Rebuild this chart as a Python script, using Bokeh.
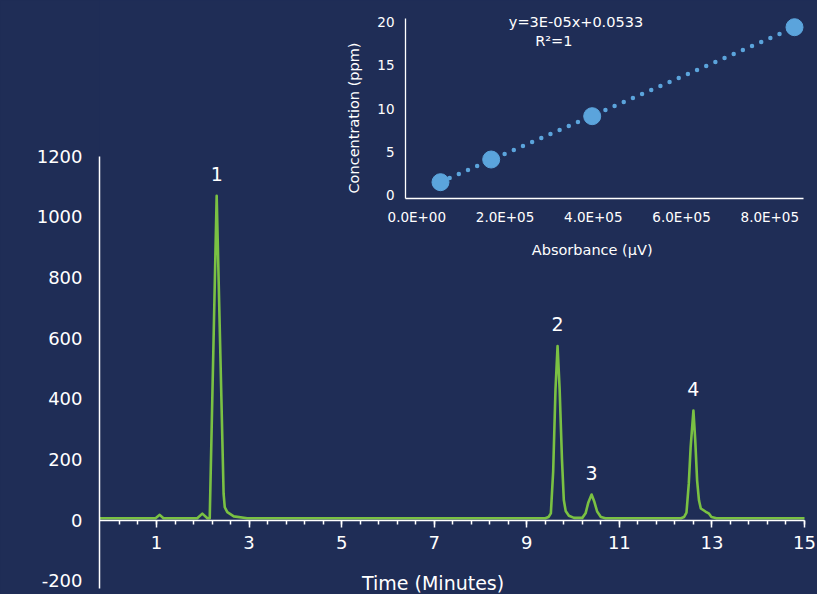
import math
import numpy as np
from bokeh.plotting import figure
from bokeh.models import Range1d, LinearAxis, FixedTicker, Label
from bokeh.core.properties import value
from bokeh.embed import file_html
from bokeh.resources import INLINE

# ---------------- data ----------------
time_min = [-0.24, 0.98, 1.07, 1.15, 1.88, 1.99, 2.10, 2.15, 2.30, 2.45, 2.475, 2.53,
            2.67, 2.96, 9.40, 9.47, 9.52, 9.57, 9.62, 9.665, 9.71, 9.76, 9.80, 9.84,
            9.91, 10.02, 10.20, 10.27, 10.33, 10.40, 10.46, 10.52, 10.60, 10.70, 12.33,
            12.40, 12.45, 12.50, 12.54, 12.60, 12.64, 12.68, 12.72, 12.76, 12.86, 12.93,
            12.99, 13.10, 15.0]
intensity_mv = [6, 6, 17, 6, 6, 21, 6, 6, 1070, 86, 42, 26,
                12, 6, 6, 10, 22, 160, 430, 574, 430, 200, 66, 30,
                14, 7, 7, 22, 58, 84, 60, 28, 10, 6, 6,
                10, 24, 120, 240, 361, 262, 130, 65, 38, 28, 22,
                10, 6, 6]
peak_time = [2.30, 9.665, 10.40, 12.60]
peak_height = [1070, 574, 84, 361]
peak_label = ["1", "2", "3", "4"]
time_ticks = [1, 3, 5, 7, 9, 11, 13, 15]
intensity_ticks = [-200, 0, 200, 400, 600, 800, 1000, 1200]
intensity_tick_labels = ["-200", "0", "200", "400", "600", "800", "1000", "1200"]

absorbance_uv = [53700, 168600, 397500, 856000]
concentration_ppm = [1.46, 4.09, 9.11, 19.42]
absorbance_ticks = [0, 200000, 400000, 600000, 800000]
absorbance_tick_labels = ["0.0E+00", "2.0E+05", "4.0E+05", "6.0E+05", "8.0E+05"]
concentration_ticks = [0, 5, 10, 15, 20]
equation_text = "y=3E-05x+0.0533"
r2_text = "R\u00b2=1"

# ---------------- style / layout ----------------
BG = "#1F2D56"
GREEN = "#7AC143"
BLUE = "#5BA4DC"
WHITE = "#FFFFFF"
FONT = "DejaVu Sans"

W, H = 817, 594
FL, FR, FT, FB = 99, 817, 0, 594   # frame edges in pixels


def lin(px, p0, v0, p1, v1):
    return v0 + (px - p0) * (v1 - v0) / (p1 - p0)


def mx(px): return lin(px, 156, 1, 804, 15)
def my(px): return lin(px, 519.5, 0, 155.8, 1200)
def ix(px): return lin(px, 416.3, 0, 769.3, 8e5)
def iy(px): return lin(px, 194.3, 0, 21.7, 20)


p = figure(width=W, height=H, output_backend="svg", toolbar_location=None,
           x_range=Range1d(mx(FL), mx(FR)), y_range=Range1d(my(FB), my(FT)),
           x_axis_location=None, y_axis_location=None,
           min_border_left=FL, min_border_right=W - FR,
           min_border_top=FT, min_border_bottom=H - FB)
p.extra_x_ranges = {"ix": Range1d(ix(FL), ix(FR))}
p.extra_y_ranges = {"iy": Range1d(iy(FB), iy(FT))}
p.background_fill_color = BG
p.border_fill_color = BG
p.outline_line_color = None
p.styles = {"background-color": BG}
p.grid.visible = False


def style_axis(ax, size, lw):
    ax.axis_line_color = WHITE
    ax.axis_line_width = lw
    ax.major_tick_line_color = WHITE
    ax.minor_tick_line_color = WHITE
    ax.major_tick_line_width = lw
    ax.minor_tick_line_width = lw
    ax.major_tick_in = 0
    ax.minor_tick_in = 0
    ax.major_tick_out = 0
    ax.minor_tick_out = 0
    ax.major_label_text_color = WHITE
    ax.major_label_text_font = FONT
    ax.major_label_text_font_size = size


# main y axis
yax = LinearAxis(ticker=FixedTicker(ticks=intensity_ticks), bounds=(my(588), 1200),
                 major_label_overrides=dict(zip(intensity_ticks, intensity_tick_labels)))
style_axis(yax, "18px", 1.5)
yax.major_label_standoff = 17
p.add_layout(yax, "left")

# main x axis at y = 0
minor = [round(0.2 + 0.4 * k, 1) for k in range(38)]
xax = LinearAxis(ticker=FixedTicker(ticks=time_ticks, minor_ticks=minor),
                 fixed_location=0, bounds=(mx(FL), 15))
style_axis(xax, "18px", 1.5)
xax.major_tick_out = 7
xax.minor_tick_out = 4
xax.major_label_standoff = 9
p.add_layout(xax, "below")

# inset axes
iax = LinearAxis(x_range_name="ix", y_range_name="iy", fixed_location=iy(198.3),
                 bounds=(ix(405), ix(802.7)),
                 ticker=FixedTicker(ticks=absorbance_ticks),
                 major_label_overrides=dict(zip(absorbance_ticks, absorbance_tick_labels)))
style_axis(iax, "13.5px", 1.3)
iax.major_label_standoff = 10
p.add_layout(iax, "below")

iyax = LinearAxis(x_range_name="ix", y_range_name="iy", fixed_location=ix(405),
                  bounds=(iy(198.3), iy(18.3)),
                  ticker=FixedTicker(ticks=concentration_ticks))
style_axis(iyax, "13.5px", 1.3)
iyax.major_label_standoff = 11
p.add_layout(iyax, "left")

# chromatogram
p.line(time_min, intensity_mv, line_color=GREEN, line_width=2.6, line_join="round")
p.text(peak_time, peak_height, text=peak_label, y_offset=-22,
       text_align="center", text_baseline="middle", text_color=WHITE,
       text_font=value(FONT), text_font_size="19px")

# calibration inset
coef = np.polyfit(absorbance_uv, concentration_ppm, 1)
fit_x = [min(absorbance_uv), max(absorbance_uv)]
fit_y = list(np.polyval(coef, fit_x))
p.line(fit_x, fit_y, x_range_name="ix", y_range_name="iy", line_color=BLUE,
       line_width=4.5, line_dash="0 10", line_cap="round")
p.scatter(absorbance_uv, concentration_ppm, x_range_name="ix", y_range_name="iy",
          size=17, fill_color=BLUE, line_color=BLUE)


def add_label(x, y, text, size, angle=0.0, xr="default", yr="default"):
    p.add_layout(Label(x=x, y=y, text=text, x_range_name=xr, y_range_name=yr,
                       angle=angle, text_align="center", text_baseline="middle",
                       text_color=WHITE, text_font=FONT, text_font_size=size))


add_label(ix(575.5), iy(21.5), equation_text, "14.5px", xr="ix", yr="iy")
add_label(ix(553.3), iy(40), r2_text, "14.5px", xr="ix", yr="iy")
add_label(ix(353.3), iy(117.5), "Concentration (ppm)", "14.5px", angle=math.pi / 2, xr="ix", yr="iy")
add_label(ix(591.7), iy(249.3), "Absorbance (\u00b5V)", "14.5px", xr="ix", yr="iy")
add_label(mx(21.5), my(362.5), "Intensity (mV)", "19px", angle=math.pi / 2)
add_label(mx(432.6), my(582), "Time (Minutes)", "19px")

open("out.html", "w").write(file_html(p, INLINE))
